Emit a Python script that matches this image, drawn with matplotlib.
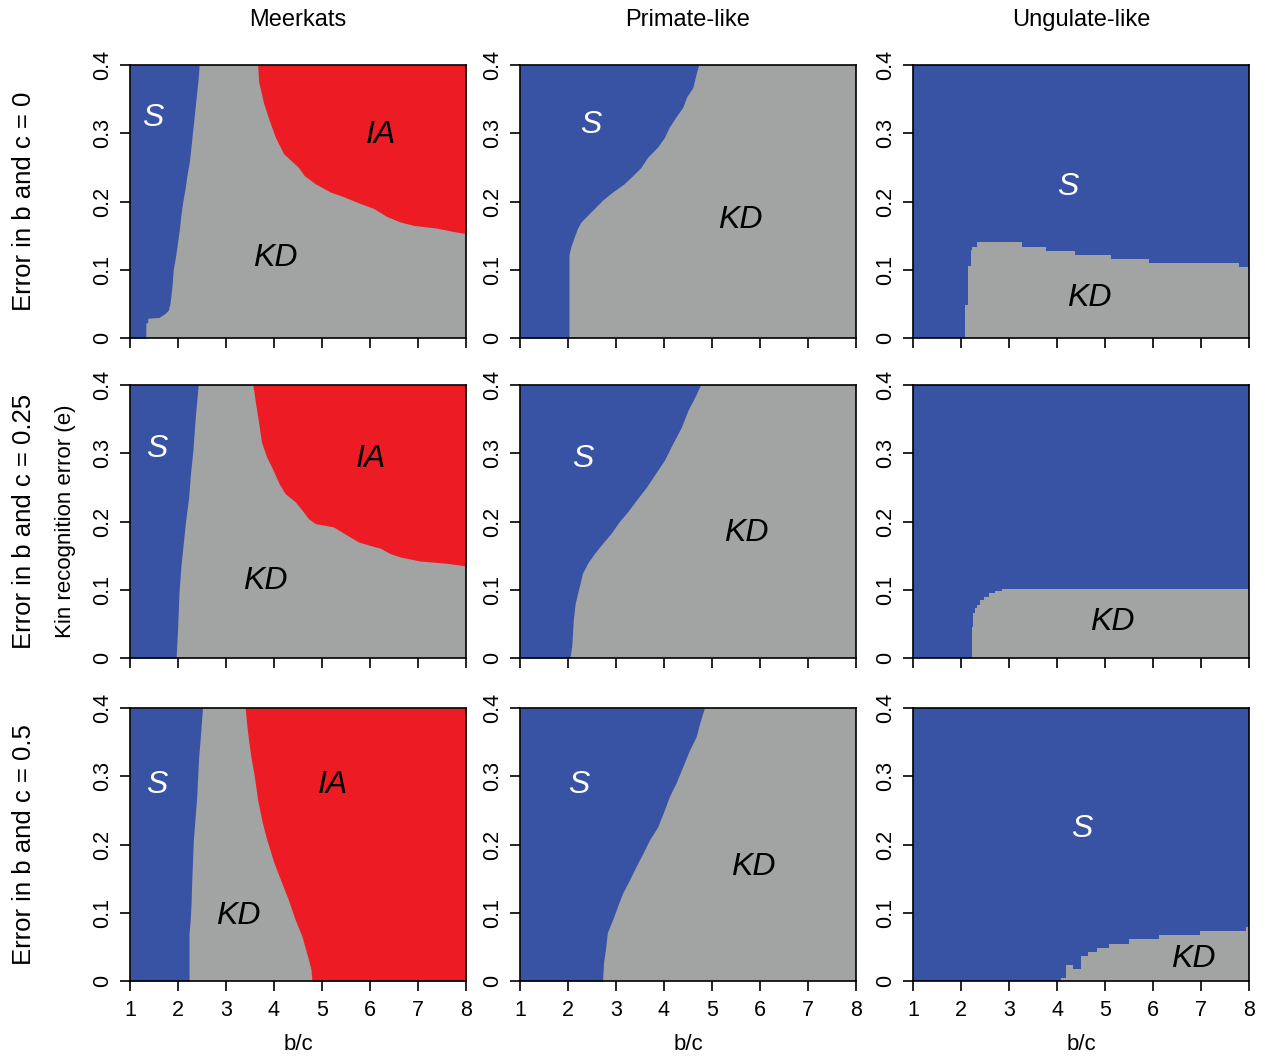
import matplotlib
matplotlib.use("Agg")
import matplotlib.pyplot as plt
import numpy as np

plt.rcParams['font.family'] = ['Liberation Sans', 'DejaVu Sans']

BLUE = "#3953A4"
GRAY = "#A2A3A3"
RED = "#ED1C24"

col_titles = ["Meerkats", "Primate-like", "Ungulate-like"]
row_labels = ["Error in b and c = 0", "Error in b and c = 0.25", "Error in b and c = 0.5"]
x_ticks = [1, 2, 3, 4, 5, 6, 7, 8]
y_ticks = [0, 0.1, 0.2, 0.3, 0.4]
y_ticklabels = ["0", "0.1", "0.2", "0.3", "0.4"]

# --- S / KD boundary (b/c value) as a function of e, for Meerkats and Primate-like ---
s_e_m0 = [0.0, 0.022, 0.023, 0.029, 0.030, 0.036, 0.041, 0.05, 0.06, 0.08, 0.10, 0.12, 0.14, 0.16, 0.18,
          0.20, 0.22, 0.24, 0.26, 0.28, 0.30, 0.32, 0.34, 0.36, 0.38, 0.40]
s_x_m0 = [1.33, 1.33, 1.37, 1.37, 1.60, 1.73, 1.80, 1.83, 1.85, 1.88, 1.90, 1.95, 1.99, 2.03, 2.06,
          2.10, 2.15, 2.19, 2.24, 2.27, 2.30, 2.33, 2.36, 2.39, 2.42, 2.44]
s_e_m25 = [0.0, 0.041, 0.095, 0.134, 0.168, 0.202, 0.234, 0.27, 0.304, 0.353, 0.40]
s_x_m25 = [1.96, 1.99, 2.02, 2.06, 2.11, 2.16, 2.22, 2.26, 2.31, 2.36, 2.42]
s_e_m50 = [0.0, 0.07, 0.085, 0.11, 0.153, 0.207, 0.27, 0.328, 0.353, 0.40]
s_x_m50 = [2.23, 2.23, 2.25, 2.27, 2.29, 2.32, 2.39, 2.43, 2.46, 2.51]

s_e_p0 = [0.0, 0.122, 0.134, 0.148, 0.161, 0.170, 0.18, 0.192, 0.202, 0.214, 0.226, 0.238,
          0.25, 0.265, 0.28, 0.294, 0.309, 0.324, 0.338, 0.353, 0.367, 0.387, 0.40]
s_x_p0 = [2.02, 2.02, 2.06, 2.13, 2.20, 2.27, 2.41, 2.58, 2.72, 2.93, 3.17, 3.35,
          3.52, 3.66, 3.87, 4.01, 4.11, 4.25, 4.39, 4.47, 4.60, 4.67, 4.72]
s_e_p25 = [0.0, 0.019, 0.056, 0.08, 0.095, 0.109, 0.124, 0.139, 0.153, 0.168, 0.182, 0.20,
           0.214, 0.231, 0.25, 0.268, 0.29, 0.314, 0.338, 0.363, 0.382, 0.40]
s_x_p25 = [2.04, 2.08, 2.11, 2.15, 2.20, 2.25, 2.30, 2.41, 2.55, 2.72, 2.89, 3.07,
           3.24, 3.42, 3.63, 3.80, 4.01, 4.18, 4.36, 4.50, 4.64, 4.76]
s_e_p50 = [0.0, 0.027, 0.046, 0.071, 0.09, 0.109, 0.129, 0.148, 0.168, 0.187, 0.207, 0.226,
           0.251, 0.27, 0.29, 0.314, 0.338, 0.358, 0.377, 0.40]
s_x_p50 = [2.72, 2.74, 2.78, 2.82, 2.93, 3.03, 3.14, 3.28, 3.42, 3.56, 3.70, 3.87,
           4.01, 4.11, 4.25, 4.39, 4.53, 4.67, 4.74, 4.84]

# --- KD / IA boundary for Meerkats (b/c value as a function of e) ---
ia_e_m0 = [0.40, 0.376, 0.345, 0.319, 0.294, 0.27, 0.25, 0.238, 0.226, 0.214, 0.207, 0.197,
           0.19, 0.178, 0.170, 0.165, 0.161, 0.156, 0.153]
ia_x_m0 = [3.66, 3.68, 3.78, 3.90, 4.03, 4.20, 4.51, 4.63, 4.86, 5.17, 5.45, 5.80,
           6.07, 6.35, 6.63, 6.91, 7.39, 7.74, 8.00]
ia_e_m25 = [0.40, 0.367, 0.345, 0.316, 0.294, 0.28, 0.255, 0.241, 0.229, 0.217, 0.204, 0.197,
            0.192, 0.18, 0.170, 0.165, 0.161, 0.153, 0.148, 0.142, 0.139, 0.135]
ia_x_m25 = [3.56, 3.63, 3.68, 3.74, 3.85, 3.95, 4.11, 4.23, 4.44, 4.58, 4.72, 4.86,
            5.24, 5.52, 5.76, 6.00, 6.21, 6.42, 6.63, 7.05, 7.57, 8.00]
ia_e_m50 = [0.40, 0.377, 0.353, 0.328, 0.30, 0.265, 0.231, 0.207, 0.173, 0.144, 0.119, 0.09,
            0.066, 0.036, 0.017, 0.0]
ia_x_m50 = [3.40, 3.43, 3.47, 3.52, 3.59, 3.66, 3.76, 3.85, 4.00, 4.16, 4.30, 4.44,
            4.58, 4.70, 4.77, 4.79]

# --- KD region top (e) as a function of b/c, Ungulate-like (step profile) ---
kd_x_u0 = [2.09, 2.15, 2.20, 2.23, 2.34, 3.28, 3.78, 4.37, 5.12, 5.92, 7.80, 8.00]
kd_e_u0 = [0.049, 0.105, 0.129, 0.134, 0.141, 0.134, 0.128, 0.122, 0.116, 0.110, 0.104, 0.104]
kd_x_u25 = [2.22, 2.25, 2.29, 2.34, 2.39, 2.48, 2.58, 2.71, 2.85, 8.00]
kd_e_u25 = [0.046, 0.066, 0.073, 0.078, 0.085, 0.090, 0.095, 0.098, 0.101, 0.101]
kd_x_u50 = [4.08, 4.18, 4.34, 4.50, 4.64, 4.83, 5.09, 5.51, 6.12, 6.97, 7.94, 8.00]
kd_e_u50 = [0.005, 0.023, 0.017, 0.036, 0.042, 0.049, 0.054, 0.061, 0.067, 0.073, 0.079, 0.079]

# label positions (b/c, e) per panel: list of (text, x, y, color)
labels = {
    (0, 0): [("S", 1.48, 0.322, "white"), ("IA", 6.22, 0.297, "black"), ("KD", 4.03, 0.117, "black")],
    (1, 0): [("S", 1.56, 0.306, "white"), ("IA", 6.01, 0.292, "black"), ("KD", 3.82, 0.113, "black")],
    (2, 0): [("S", 1.56, 0.287, "white"), ("IA", 5.22, 0.287, "black"), ("KD", 3.26, 0.095, "black")],
    (0, 1): [("S", 2.48, 0.312, "white"), ("KD", 5.58, 0.173, "black")],
    (1, 1): [("S", 2.30, 0.292, "white"), ("KD", 5.72, 0.183, "black")],
    (2, 1): [("S", 2.23, 0.287, "white"), ("KD", 5.85, 0.167, "black")],
    (0, 2): [("S", 4.22, 0.221, "white"), ("KD", 4.68, 0.059, "black")],
    (1, 2): [("KD", 5.16, 0.053, "black")],
    (2, 2): [("S", 4.51, 0.223, "white"), ("KD", 6.83, 0.032, "black")],
}

W, H = 1265, 1057
fig = plt.figure(figsize=(W / 100, H / 100), dpi=100)

lefts = [130, 520, 913]
tops = [65, 385, 708]
aw, ah = 336, 273

s_data = {(0, 0): (s_e_m0, s_x_m0), (1, 0): (s_e_m25, s_x_m25), (2, 0): (s_e_m50, s_x_m50),
          (0, 1): (s_e_p0, s_x_p0), (1, 1): (s_e_p25, s_x_p25), (2, 1): (s_e_p50, s_x_p50)}
ia_data = {(0, 0): (ia_e_m0, ia_x_m0), (1, 0): (ia_e_m25, ia_x_m25), (2, 0): (ia_e_m50, ia_x_m50)}
kd_data = {(0, 2): (kd_x_u0, kd_e_u0), (1, 2): (kd_x_u25, kd_e_u25), (2, 2): (kd_x_u50, kd_e_u50)}

for r in range(3):
    for c in range(3):
        ax = fig.add_axes([lefts[c] / W, 1 - (tops[r] + ah) / H, aw / W, ah / H])
        ax.set_xlim(1, 8)
        ax.set_ylim(0, 0.4)
        if c < 2:
            ax.set_facecolor(GRAY)
            e, xs = s_data[(r, c)]
            ax.fill_betweenx(e, 1, xs, color=BLUE, lw=0)
            if (r, c) in ia_data:
                e2, x2 = ia_data[(r, c)]
                ax.fill_betweenx(e2, x2, 8, color=RED, lw=0)
        else:
            ax.set_facecolor(BLUE)
            xk, ek = kd_data[(r, c)]
            ax.fill_between(xk, 0, ek, step="post", color=GRAY, lw=0)
        for txt, tx, ty, col in labels[(r, c)]:
            ax.text(tx, ty, txt, color=col, fontsize=23, fontstyle="italic",
                    ha="center", va="center")
        ax.set_xticks(x_ticks)
        ax.set_yticks(y_ticks)
        ax.set_yticklabels(y_ticklabels, rotation=90, va="center")
        ax.tick_params(direction="out", length=7, width=1.2, labelsize=15.5, pad=5, color="black")
        ax.tick_params(axis="x", pad=7)
        if r < 2:
            ax.set_xticklabels([])
        else:
            ax.set_xlabel("b/c", fontsize=16, labelpad=9)
        for sp in ax.spines.values():
            sp.set_linewidth(1.2)
        if r == 0:
            ax.set_title(col_titles[c], fontsize=17, pad=28)

for r in range(3):
    cy = 1 - (tops[r] + ah / 2) / H
    fig.text(24 / W, cy, row_labels[r], rotation=90, fontsize=18.5, ha="center", va="center")
fig.text(66 / W, 1 - (tops[1] + ah / 2) / H, "Kin recognition error (e)", rotation=90,
         fontsize=16, ha="center", va="center")

fig.savefig("out.png", dpi=100)
